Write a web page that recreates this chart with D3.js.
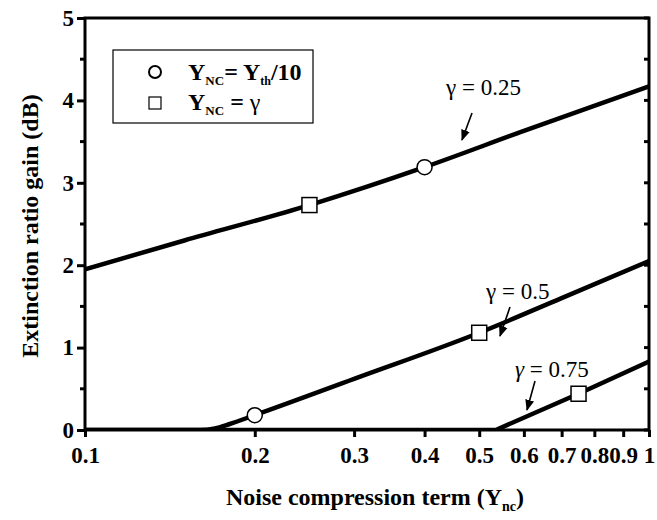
<!DOCTYPE html>
<html>
<head>
<meta charset="utf-8">
<script src="https://cdn.jsdelivr.net/npm/d3@7"></script>
<style>
  body { margin: 0; background: #fff; }
  text { font-family: "Liberation Serif", "Times New Roman", serif; }
</style>
</head>
<body>
<div id="chart"></div>
<script>
// data
var xTicks = [0.1, 0.2, 0.3, 0.4, 0.5, 0.6, 0.7, 0.8, 0.9, 1];
var yTicks = [0, 1, 2, 3, 4, 5];
var yMinor = [0.5, 1.5, 2.5, 3.5, 4.5];

var g025 = [[0.1, 1.95], [0.15, 2.3], [0.25, 2.73], [0.4, 3.19], [0.6, 3.63], [1, 4.17]];
var g050 = [[0.1, 0], [0.16, 0], [0.17, 0.02], [0.18, 0.07], [0.2, 0.18], [0.3, 0.62], [0.5, 1.18], [0.7, 1.6], [1, 2.05]];
var g075 = [[0.1, 0], [0.535, 0], [0.75, 0.44], [1, 0.83]];

var circlePts = [[0.2, 0.18], [0.4, 3.19]];
var squarePts = [[0.25, 2.73], [0.5, 1.18], [0.75, 0.44]];

var svgWidth = 657, svgHeight = 520;
var margin = { top: 18, right: 8, bottom: 90, left: 85 };
var width = 649 - margin.left;
var height = 430 - margin.top;

var svg = d3.select("#chart").append("svg")
  .attr("width", svgWidth)
  .attr("height", svgHeight);

var chartGroup = svg.append("g")
  .attr("transform", `translate(${margin.left}, ${margin.top})`);

var x = d3.scaleLog().domain([0.1, 1]).range([0, width]);
var y = d3.scaleLinear().domain([0, 5]).range([height, 0]);

// clip
svg.append("defs").append("clipPath").attr("id", "clip")
  .append("rect").attr("width", width).attr("height", height + 3).attr("y", -2);

var line = d3.line()
  .x(d => x(d[0]))
  .y(d => y(d[1]));

var curves = chartGroup.append("g").attr("clip-path", "url(#clip)");
[g025, g050, g075].forEach(function(s, i) {
  curves.append("path")
    .attr("d", line.curve(i == 2 ? d3.curveLinear : d3.curveMonotoneX)(s))
    .attr("fill", "none")
    .attr("stroke", "#000")
    .attr("stroke-width", 4.5)
    .attr("stroke-linejoin", "round");
});

// frame
chartGroup.append("rect")
  .attr("width", width).attr("height", height)
  .attr("fill", "none").attr("stroke", "#000").attr("stroke-width", 3);

// bottom axis
var bottom = chartGroup.append("g")
  .attr("transform", `translate(0, ${height})`)
  .call(d3.axisBottom(x).tickValues(xTicks).tickFormat(d => d3.format("")(d)).tickSize(7).tickPadding(10));
bottom.select(".domain").remove();
bottom.selectAll("line").attr("stroke-width", 3);
bottom.selectAll("text")
  .attr("font-size", 23).attr("font-weight", "bold")
  .attr("font-family", "Liberation Serif").attr("fill", "#000");

// left axis
var left = chartGroup.append("g")
  .call(d3.axisLeft(y).tickValues(yTicks).tickFormat(d3.format("d")).tickSize(8).tickPadding(3));
left.select(".domain").remove();
left.selectAll("line").attr("stroke-width", 3).attr("x2", -8);
left.selectAll("text")
  .attr("font-size", 23).attr("font-weight", "bold")
  .attr("font-family", "Liberation Serif").attr("fill", "#000");

chartGroup.append("g").selectAll("line")
  .data(yMinor).enter().append("line")
  .attr("x1", -5).attr("x2", 0)
  .attr("y1", d => y(d)).attr("y2", d => y(d))
  .attr("stroke", "#000").attr("stroke-width", 3);

// right axis ticks (inward)
chartGroup.append("g").selectAll("line")
  .data(yTicks.concat(yMinor)).enter().append("line")
  .attr("x1", width - 5).attr("x2", width)
  .attr("y1", d => y(d)).attr("y2", d => y(d))
  .attr("stroke", "#000").attr("stroke-width", 3);

// markers
chartGroup.selectAll(".mk-c")
  .data(circlePts).enter().append("circle")
  .attr("cx", d => x(d[0])).attr("cy", d => y(d[1]))
  .attr("r", 7.5)
  .attr("fill", "#fff").attr("stroke", "#000").attr("stroke-width", 1.5);

chartGroup.selectAll(".mk-s")
  .data(squarePts).enter().append("rect")
  .attr("x", d => x(d[0]) - 7.5).attr("y", d => y(d[1]) - 7.5)
  .attr("width", 15).attr("height", 15)
  .attr("fill", "#fff").attr("stroke", "#000").attr("stroke-width", 1.5);

// curve labels with arrows
var labels = [
  { t: "0.25", lx: 446, ly: 95, it: false, a: [472, 113, 462, 140] },
  { t: "0.5", lx: 486, ly: 299, it: false, a: [510, 307, 500, 336] },
  { t: "0.75", lx: 515, ly: 377, it: true, a: [535, 381, 527, 410] }
];
svg.append("defs").append("marker")
  .attr("id", "arr").attr("viewBox", "0 0 10 10")
  .attr("refX", 9).attr("refY", 5)
  .attr("markerWidth", 7).attr("markerHeight", 7)
  .attr("orient", "auto")
  .append("path").attr("d", "M0,1 L10,5 L0,9 z").attr("fill", "#000");

labels.forEach(function(l) {
  var t = svg.append("text")
    .attr("x", l.lx).attr("y", l.ly)
    .attr("font-size", 23).attr("fill", "#000");
  t.append("tspan").attr("font-style", l.it ? "italic" : "normal").text("γ");
  t.append("tspan").text(" = " + l.t);
  svg.append("line")
    .attr("x1", l.a[0]).attr("y1", l.a[1]).attr("x2", l.a[2]).attr("y2", l.a[3])
    .attr("stroke", "#000").attr("stroke-width", 1.6)
    .attr("marker-end", "url(#arr)");
});

// legend
svg.append("rect")
  .attr("x", 113).attr("y", 50).attr("width", 200).attr("height", 73)
  .attr("fill", "#fff").attr("stroke", "#000").attr("stroke-width", 1.2);
svg.append("circle").attr("cx", 155).attr("cy", 72).attr("r", 6)
  .attr("fill", "#fff").attr("stroke", "#000").attr("stroke-width", 2);
svg.append("rect").attr("x", 149).attr("y", 97).attr("width", 12).attr("height", 12)
  .attr("fill", "#fff").attr("stroke", "#000").attr("stroke-width", 1.2);

var l1 = svg.append("text").attr("x", 188).attr("y", 80)
  .attr("font-size", 24).attr("font-weight", "bold").attr("fill", "#000");
l1.append("tspan").text("Y");
l1.append("tspan").attr("font-size", 13).attr("dy", 5).text("NC");
l1.append("tspan").attr("dy", -5).text("= Y");
l1.append("tspan").attr("font-size", 12).attr("dy", 5).text("th");
l1.append("tspan").attr("dy", -5).text("/10");

var l2 = svg.append("text").attr("x", 188).attr("y", 110)
  .attr("font-size", 24).attr("font-weight", "bold").attr("fill", "#000");
l2.append("tspan").text("Y");
l2.append("tspan").attr("font-size", 13).attr("dy", 5).text("NC");
l2.append("tspan").attr("dy", -5).text(" = ");
l2.append("tspan").attr("font-weight", "normal").text("γ");

// axis titles
var xt = svg.append("text")
  .attr("x", 375).attr("y", 505)
  .attr("text-anchor", "middle")
  .attr("font-size", 24).attr("font-weight", "bold").attr("fill", "#000");
xt.append("tspan").text("Noise compression term (Y");
xt.append("tspan").attr("font-size", 14).attr("dy", 6).text("nc");
xt.append("tspan").attr("dy", -6).text(")");

svg.append("text")
  .attr("transform", "translate(38, 226) rotate(-90)")
  .attr("text-anchor", "middle")
  .attr("font-size", 24).attr("font-weight", "bold").attr("fill", "#000")
  .text("Extinction ratio gain (dB)");
</script>
</body>
</html>
